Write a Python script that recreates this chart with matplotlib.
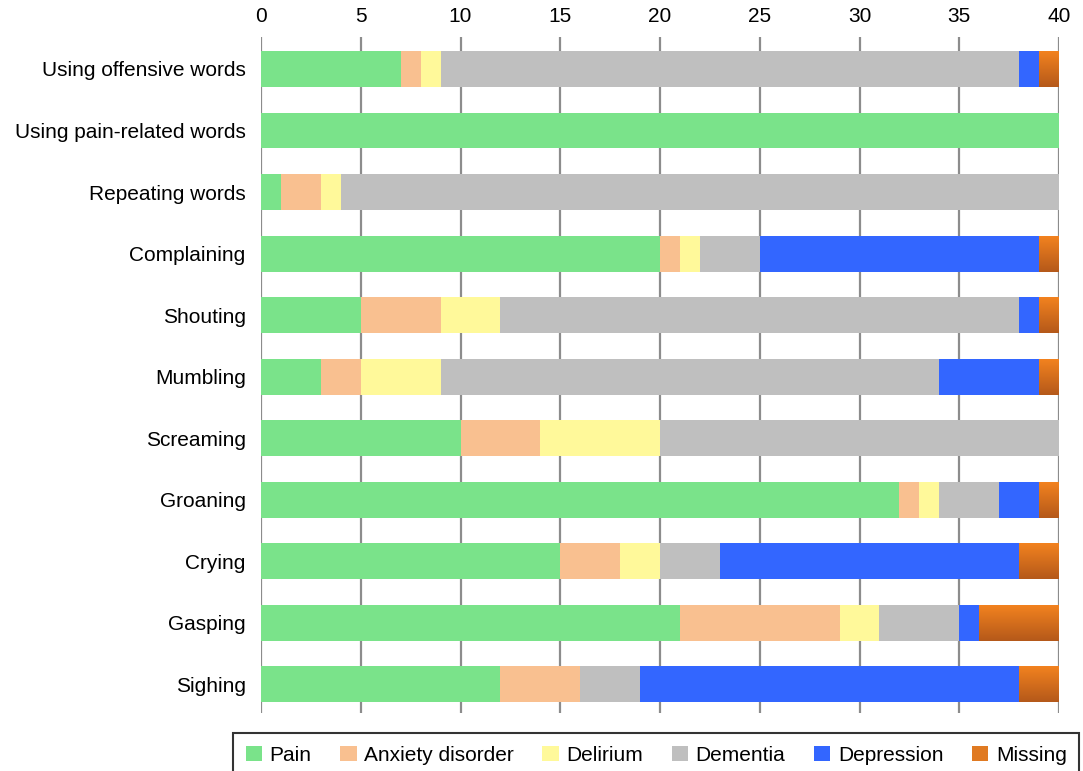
import numpy as np
import matplotlib
matplotlib.use("Agg")
from matplotlib import pyplot as plt
from matplotlib.colors import LinearSegmentedColormap

plt.rcParams['font.family'] = ['Liberation Sans', 'DejaVu Sans']

# dane
kategorie = ["Using offensive words", "Using pain-related words", "Repeating words",
             "Complaining", "Shouting", "Mumbling", "Screaming", "Groaning",
             "Crying", "Gasping", "Sighing"]
serie = ["Pain", "Anxiety disorder", "Delirium", "Dementia", "Depression", "Missing"]

pain = [7, 40, 1, 20, 5, 3, 10, 32, 15, 21, 12]
anxiety = [1, 0, 2, 1, 4, 2, 4, 1, 3, 8, 4]
delirium = [1, 0, 1, 1, 3, 4, 6, 1, 2, 2, 0]
dementia = [29, 0, 36, 3, 26, 25, 20, 3, 3, 4, 3]
depression = [1, 0, 0, 14, 1, 5, 0, 2, 15, 1, 19]
missing = [1, 0, 0, 1, 1, 1, 0, 1, 2, 4, 2]

kolory = ["#7AE38A", "#F9C090", "#FFF99A", "#BFBFBF", "#3366FF", "#E07A22"]

fig = plt.figure(figsize=(10.83, 7.71), dpi=100)
ax = fig.add_axes([261 / 1083, 1 - 713 / 771, (1059 - 261) / 1083, (713 - 37) / 771])

y = np.arange(len(kategorie))
lewo = np.zeros(len(kategorie))
gradient = LinearSegmentedColormap.from_list("pom", ["#F2821F", "#B5591A"])
for nazwa, wartosci, kolor in zip(serie, [pain, anxiety, delirium, dementia, depression, missing], kolory):
    wartosci = np.array(wartosci, dtype=float)
    bary = ax.barh(y, wartosci, left=lewo, height=0.585, color=kolor, label=nazwa,
                   linewidth=0, zorder=2)
    if nazwa == "Missing":
        # pomaranczowy gradient jak w oryginale
        for b in bary:
            if b.get_width() <= 0:
                continue
            x0, y0 = b.get_x(), b.get_y()
            im = ax.imshow(np.linspace(0, 1, 50).reshape(-1, 1), cmap=gradient, aspect="auto",
                           extent=(x0, x0 + b.get_width(), y0 + b.get_height(), y0),
                           zorder=3, interpolation="bilinear")
            im.set_clip_path(b)
    lewo += wartosci

ax.set_xlim(0, 40)
ax.set_ylim(10.47, -0.52)
ax.set_yticks(y)
ax.set_yticklabels(kategorie, fontsize=15)
ax.set_xticks(np.arange(0, 41, 5))
ax.xaxis.tick_top()
ax.tick_params(axis="x", length=0, labelsize=15, pad=8)
ax.tick_params(axis="y", length=0, pad=11)
ax.set_axisbelow(True)
ax.grid(axis="x", color="#8C8C8C", linewidth=1.6)
for s in ax.spines.values():
    s.set_visible(False)

leg = fig.legend(loc="upper left", bbox_to_anchor=(233 / 1083, 1 - 733 / 771), ncol=6,
                 fontsize=15, frameon=True, fancybox=False, borderaxespad=0,
                 handlelength=0.8, handleheight=0.8, handletextpad=0.36, columnspacing=1.36,
                 borderpad=0.6)
leg.get_frame().set_edgecolor("black")
leg.get_frame().set_linewidth(1.5)

plt.savefig("out.png", dpi=100)
